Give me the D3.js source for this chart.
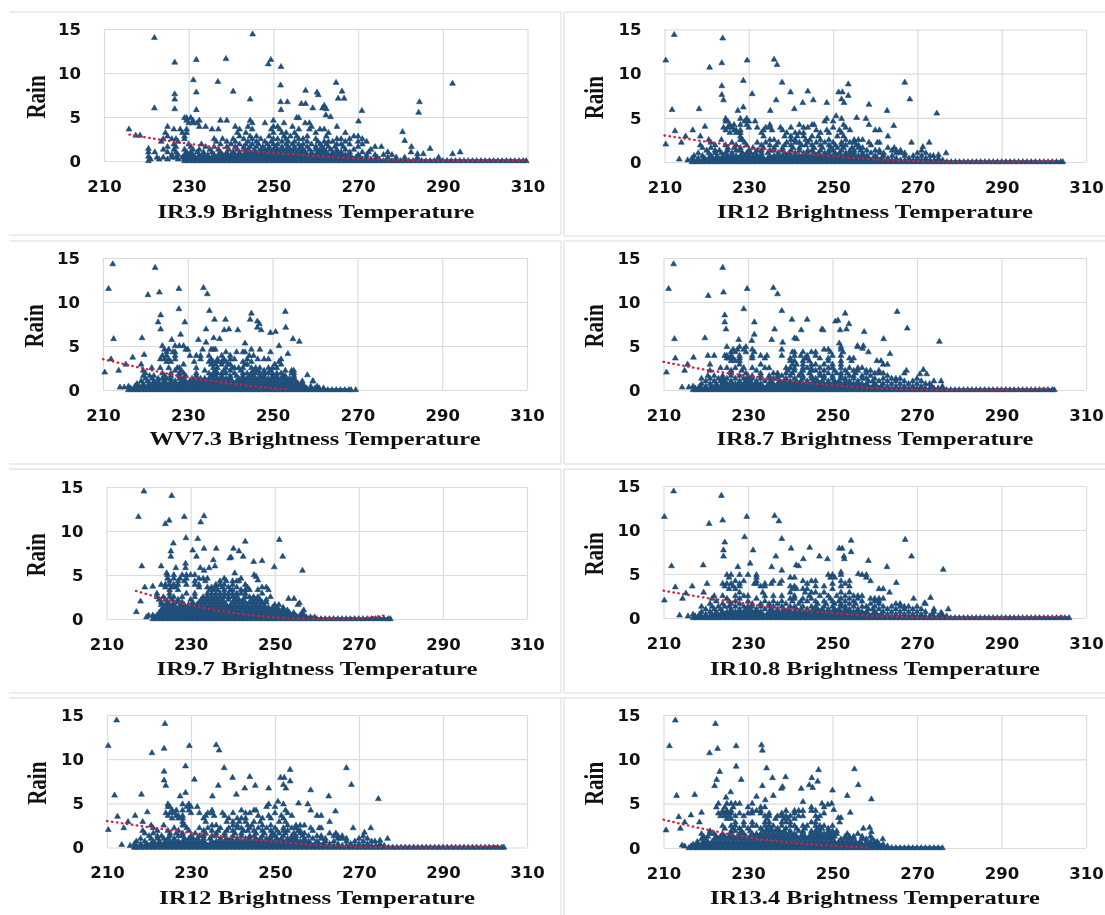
<!DOCTYPE html>
<html>
<head>
<meta charset="utf-8">
<title>Rain vs brightness temperature</title>
<script src="https://cdn.jsdelivr.net/npm/d3@7"></script>
<style>
  html, body { margin: 0; background: #fff; }
  svg { display: block; filter: blur(0.35px); }
  .tick text { font-family: "DejaVu Sans", sans-serif; font-weight: bold; font-size: 16.5px; fill: #111; }
  .grid line { stroke: #dcdcdc; stroke-width: 1.2; }
  .title { font-family: "Liberation Serif", serif; font-weight: bold; fill: #111; }
  .frame { stroke: #e6e6e6; stroke-width: 1.5; }
</style>
</head>
<body>
<svg id="chart" width="1105" height="915"></svg>
<script>
const xTicks = [210, 230, 250, 270, 290, 310];
const yTicks = [0, 5, 10, 15];

// sparse points, [temperature, rain]
const ir39Peaks = [[215.9,3.6],[221.9,6],[221.9,14],[226.7,11.2],[226.7,7.6],[226.7,7],[226.7,5.9],[231.1,9.2],[231.8,11.5],[231.8,7.8],[231.8,5.8],[236.9,9],[238.8,11.6],[240.5,7.9],[244.5,7],[245.1,14.4],[248.8,11],[249.4,11.5],[251.8,10.7],[251.7,8.6],[251.7,6.7],[251.8,5.8],[253.3,6.7],[256.6,6.5],[257.6,6.5],[257.6,8],[260.3,7.8],[260.6,7.5],[259.3,6],[261.6,6],[262,6.3],[262.5,5.9],[262.4,5.2],[263.5,5],[264.8,8.9],[265.3,7.1],[266.2,7.9],[266.7,7.1],[270.9,5.7],[270.1,4.5],[280.5,3.3],[281,2.3],[282.6,1.6],[282.5,1],[284.3,5.5],[284.5,6.7],[287,1.4],[292.3,8.8],[292.3,.8],[294.1,1],[284,.8],[285.4,.8],[217.5,2.9],[218.5,2.9],[220.5,1.4],[220.5,1],[220.5,.5],[220.5,0]];
const ir12Peaks = [[210.3,11.5],[212.3,14.4],[211.8,5.9],[210.3,2],[212.5,3.5],[214,2.2],[213.5,.3],[215.5,.2],[216.7,3.6],[215,2.9],[218.2,6],[219.6,4],[220.7,10.7],[223.6,11.2],[223.8,14],[223.6,8.6],[223.6,7.6],[224,7],[228.7,9.2],[229.6,11.5],[230.8,7.7],[228.7,6.2],[227.4,5.8],[236,11.6],[236.7,11],[237.9,9],[236.5,7],[235.1,5.8],[239.9,7.9],[240.8,6],[242.8,6.7],[244,8],[245.3,7],[248.5,6.7],[251.3,7.9],[252.2,7.9],[252,7.1],[252.6,6.7],[253.6,8.8],[253.6,7.5],[250.7,5.2],[255.6,5],[257.8,4.9],[258.5,6.5],[262.8,5.8],[264.4,4.1],[267,9],[268.2,7.1],[274.6,5.5],[268.6,2.2],[272.8,2.2],[271.3,1.7],[276.8,1],[275,.8],[273.8,.7]];
const wv73Peaks = [[210.4,2],[211.3,11.5],[212.3,14.3],[212.5,5.8],[211.9,3.5],[213.7,2.2],[215.4,2.9],[217,3.7],[219.2,5.9],[219.7,4],[220.6,10.8],[222.3,13.9],[223.3,11.1],[223,7.7],[223.6,8.5],[223.6,6.9],[227.9,11.5],[227.9,9.2],[229.3,7.7],[228.3,6.3],[226.2,5.7],[232.5,5.7],[233.7,11.6],[234.6,10.9],[235.1,9],[236.3,8],[238.9,8],[234.3,6.9],[238.6,6.8],[239.7,6.9],[241.8,6.8],[236.1,5.9],[237.5,5.8],[243.5,5.3],[234.3,5.4],[245,8.7],[244.7,8],[246.4,7.8],[246.9,7.5],[246.4,7.1],[247.3,6.8],[249.5,6.5],[250.7,6.6],[253,8.9],[253.1,7.1],[251.5,5],[254.8,5.8],[256.3,5.5],[253.6,4.1],[258.2,1.7],[259.5,1],[269.6,0],[214,.3],[215,.3]];
const ir87Peaks = [[210.7,2],[211.2,11.5],[212.4,14.3],[212.6,5.8],[212.8,3.6],[214.4,.3],[216,.3],[215,2.2],[215.7,2.9],[217.1,3.7],[219.8,5.9],[220.6,10.7],[224.2,11.1],[224,13.9],[224.5,8.5],[224.5,7.7],[224.8,6.9],[229,9.2],[229.8,11.5],[231.5,7.7],[231.5,6.3],[230.9,5.6],[227.8,5.7],[236,11.6],[237,10.9],[238,9],[236.3,6.9],[235.6,5.7],[238.2,5.4],[240.4,8],[241,5.9],[241.5,5.8],[242.6,6.8],[244,8],[247.5,6.9],[247.8,6.8],[250.7,7.8],[251.3,7.9],[253,8.7],[251.8,6.8],[253.3,6.9],[253.9,7.5],[251.6,5.3],[257.5,6.6],[255.9,5],[257.3,5],[257.1,4.7],[258.5,4.3],[262.1,5.8],[263.6,4.1],[265.3,8.9],[267.7,7],[275.3,5.5],[267.5,2.2],[271.5,2.3],[270.7,1.8],[272.3,1.8],[275.7,1]];
const ir97Peaks = [[217.1,.8],[217.6,11.6],[218.9,14.5],[218.1,2],[218.4,6],[219.1,3.6],[221,3.7],[223,6],[224,10.8],[224.9,11.2],[225.5,14],[225.9,8.6],[225.3,7.7],[225.3,7.1],[226.5,5.8],[224.3,5.2],[228.5,11.6],[228.9,9.2],[228.8,6.3],[228.8,5.8],[230.5,7.8],[231.4,7.1],[231.7,9.1],[232.4,11],[233.2,11.7],[233.2,8],[232.3,5.8],[233.2,5.5],[236.1,8],[235.4,6.7],[235.8,6],[234.4,5.8],[239.3,6.9],[239.6,7],[240.2,8],[241.5,7.7],[242.5,7.1],[243,8.8],[240.5,5.2],[245,6.5],[247,6.6],[249.9,5.9],[251.1,9],[251.9,7.1],[256.6,5.5],[245.1,5],[245.6,4.8],[246,4.4],[253.3,2.3],[254.6,2.3],[255.9,1.8],[256.9,1]];
const ir108Peaks = [[210.2,11.5],[212.4,14.4],[211.9,5.9],[210.2,2],[212.8,3.5],[214.5,2.2],[213.8,.3],[215.8,.2],[216.8,3.6],[215.3,2.8],[219.4,6],[220.3,3.9],[220.8,10.7],[223.7,13.9],[224,11.1],[224.5,8.6],[224.2,7.7],[224.2,7],[229.2,9.2],[229.7,11.5],[231.2,7.7],[230.5,6.2],[227.6,5.8],[235.6,5.8],[236.3,11.6],[237.3,11],[238,9],[236.6,7],[238,5.4],[240.2,7.9],[241.4,6],[242,5.9],[243.1,6.7],[244.6,8],[246.9,7],[248.8,6.7],[251.6,7.9],[252.3,7.9],[252.7,7],[252.8,6.7],[254.4,8.8],[254.4,7.5],[252,5.2],[256.1,5],[258,4.9],[258.5,6.5],[262.9,5.8],[265.1,4],[267.2,8.9],[268.7,7],[276.2,5.5],[269.2,2.2],[273.2,2.3],[271.8,1.7],[277.4,1],[275.7,.6]];
const ir134Peaks = [[210.6,2],[211.4,11.5],[212.8,14.4],[213.1,5.9],[213.6,3.5],[214,2.2],[214.4,.3],[215,.2],[215,2.9],[216.5,3.7],[217.4,6],[219,4],[220.9,10.7],[222.3,14],[222.8,11.2],[223.3,8.6],[222.6,7.7],[222.1,7],[227.2,9.2],[227.2,11.5],[228.4,7.7],[225.9,6.3],[224.8,5.7],[232,5.8],[233.2,11.6],[233.4,11],[234.4,9],[233.4,7],[234.1,5.4],[235.8,7.9],[236,5.9],[238.9,8],[238.2,6.9],[237.9,6.7],[242.6,6.7],[243,5.2],[244.5,7.1],[245.1,7.9],[245.3,6.8],[246.5,7.5],[246.7,8.8],[250,6.5],[253.5,5.9],[255.2,8.9],[256.1,7.1],[259.2,5.5],[254.2,4],[247.5,5],[248.9,4.9],[249.8,5],[250.3,4.3],[251.4,3.4],[252,3.4],[251.7,2.9],[257.3,2.2],[258.8,2.3],[259.2,1.8],[261.9,1],[260.6,.7]];

// the dense cloud, [rain, temperatures at that rain]
const ir39Rows = [
  [4.9,[229,229.5,230.5,255.5,256]],
  [4.6,[229.5,231,232.5,237.5,239,244.5,250]],
  [4.3,[230,231,232,245,248,252.5,257.5,258.5]],
  [3.9,[225,232.5,234,241,244,250,251,254.5,259,265]],
  [3.6,[226.5,228,229.5,235.5,237,242,245,249.5,251.5,256,258.5,261,262]],
  [3.2,[224.5,228.5,229.5,241.5,243.5,250,252,253,255,260,263,267]],
  [2.8,[225,229,242,244.5,246,249,252.5,254,255.5,258,262.5,269,270]],
  [2.5,[224,226,227,229,236,238,240.5,243,245,247,250,251,253,256,257,260,265,266,268,271]],
  [2.2,[223.5,227.5,236.5,239,241,244,246,248,249.5,252,253.5,255,258,260.5,262,263,264,267,270,272]],
  [1.9,[226.5,230,233,237.5,240,242,243.5,245,246.5,248.5,250,251,253,254.5,256,257,259,261,262.5,265,266,268,271]],
  [1.6,[225,227,230.5,234,236,239,241,243,244.5,246,247.5,249,250.5,252,253.5,255,256.5,258,260,261.5,263,264.5,266.5,270,274,275.5]],
  [1.3,[224,226.5,229,231,232.5,235,237,239.5,241.5,243,244,245.5,247,248,249,250,251,252,253,254,255,256,257,258.5,260,261,262,263.5,265,267,269,273]],
  [1,[222,225,227,229.5,230.5,232,233.5,235.5,237.5,239,240.5,242,243.5,244.5,245.5,246.5,247.5,248.5,249.5,250.5,251.5,252.5,253.5,254.5,255.5,256.5,257.5,259,260.5,261.5,262.5,264,265,266,268,271,272.5,277]],
  [.7,[226,227.5,229,230,231,232.5,233.5,234.5,236,237,238,239,240,241,242,243,244,245,246,247,248,249,250,251,252,253,254,255,256,257,258,259,260,261,262,263,264,265,266,267,268,270,272,274,276,278]],
  [.4,[222.5,224,226,227,228.5,229.5,230.5,231.5,232.5,233.5,234.5,235.5,236.5,237.5,238.5,239.5,240.5,241.5,242.5,243.5,244.5,245.5,246.5,247.5,248.5,249.5,250.5,251.5,252.5,253.5,254.5,255.5,256.5,257.5,258.5,259.5,260.5,261.5,262.5,263.5,264.5,265.5,266.5,267.5,268.5,269.5,270.5,272,274.5,277,279,281,284,289]],
  [.2,[221,223,225,227.5,229,230,231,232,233,234,235,236,237,238,239,240,241,242,243,244,245,246,247,248,249,250,251,252,253,254,255,256,257,258,259,260,261,262,263,264,265,266,267,268,269,270,271,272,273,274,275]]
];
const ir12Rows = [
  [4.9,[224.5,228,229.5,248.5,252]],
  [4.6,[224.5,225,229,230,231.5,248,250]],
  [4.2,[225.5,226.5,228,229.5,235,242,245,245.5,252.5,258.5]],
  [3.9,[224,225,226,230,232,234,235,237.5,240,243,244,250,253]],
  [3.6,[224.5,226.5,227,228,233.5,235.5,238,246,248.5,251.5,254,260,261]],
  [3.3,[225.5,227,228,233,239,241,242,243,247,249,252]],
  [2.9,[218.5,228,233.5,238.5,240,241.5,243,245,246.5,251,252.5,263]],
  [2.5,[220.5,223.5,228,228.5,235,236,240,241,243.5,244.5,247,249,253,255,256,257]],
  [2.2,[221,226,229,232,234,237,239,241,242,244,246,248,250,252,254,255,258.5,260.5,261]],
  [1.9,[218.5,222,224.5,227,229.5,233,235,236.5,238.5,240,242.5,243.5,245,247,249,250.5,252,253,255.5,256,259]],
  [1.6,[219,221,225,226.5,228,231,233.5,236,238,240.5,242,245.5,247.5,249.5,251,252.5,254.5,256,257,263,264.5]],
  [1.3,[220,222,223,225,227,228,230,232,233,235,236,238,240,242,244,245,247,249,250,252,254,255,256.5,258,260,261,264,265,266,271]],
  [1,[218,220.5,222,223.5,224.5,226,228.5,229.5,230.5,231.5,233,234.5,237,238.5,239.5,241,243,244,245.5,246.5,248,249,250.5,251.5,253,254,255,257,259,261,262,265,266,267,270,272]],
  [.7,[217,219,221,222.5,224,225,226,227,228,229,230,231,232,233,235,236,237,238,239,240,241,242,243,244,245,246,247,248,249,250,251,252,253,254,255,256,257,258,260,262,264,267,269,271,273]],
  [.4,[216.5,218,219.5,220.5,221.5,222.5,223.5,224.5,225.5,226.5,227.5,228.5,229.5,230.5,231.5,232.5,233.5,234.5,235.5,236.5,237.5,238.5,239.5,240.5,241.5,242.5,243.5,244.5,245.5,246.5,247.5,248.5,249.5,250.5,251.5,252.5,253.5,254.5,255.5,256.5,257.5,258.5,259.5,260.5,261.5,263,265,268,270,272,275]],
  [.2,[217,218,219,220,221,222,223,224,225,226,227,228,229,230,231,232,233,234,235,236,237,238,239,240,241,242,243,244,245,246,247,248,249,250,251,252,253,254,255,256,257,258,259,260,261,262,263,264,265,266,267,268,269,270,271,272,273,274,275,276]]
];
const wv73Rows = [
  [5,[224,227,228,229]],
  [4.6,[224.5,225.5,229.5,230,233.5,235.5,236,236.5,245,247]],
  [4.3,[225,226.5,227,239,241.5,243,243.5,249.5]],
  [3.9,[224,225,227,230.5,232,233,235,238,240,244.5,245.5]],
  [3.5,[223.5,224.5,225.5,227,233,235.5,237,238.5,240,241,244,246.5,248,249,252]],
  [3.2,[225,226,231.5,235,236,237,238,239,243,245,251.5]],
  [2.9,[219,229,235.5,236.5,238,239.5,240,243.5,244,250.5,252]],
  [2.5,[221.5,223.5,225.5,227.5,228,232,236,237,239,240.5,241,242,243,245,246,247,249,250,251]],
  [2.2,[219.5,227,228.5,234,236.5,238.5,240,242.5,245.5,246.5,248,249.5,253,254.5,255]],
  [1.9,[220,224,226,228,229,232,235,236,237,238,239,241,243,244,245,246,247,248,249,250,251,252,254.5,255]],
  [1.6,[219.5,221,222,224.5,226,228,229.5,232,235.5,236.5,238,240,241.5,243,244.5,245.5,247,248,250,251,252.5,253,255]],
  [1.3,[220,221.5,223,224,225,226,228,229,231,232,233,234,235,236,237,238,239,240,242,243,244,245,246,247,248,249,250,251,252,253,254,255]],
  [1,[219,220.5,222,223,224.5,226,227,228.5,229.5,230.5,231.5,232.5,233.5,234.5,235.5,236.5,237.5,238.5,239.5,240.5,241.5,242.5,243.5,244.5,245.5,246.5,247.5,248.5,249.5,250.5,251.5,252.5,253.5,254.5,255.5,257,259.5]],
  [.7,[218,219.5,221,222,223,224,225,226,227,228,229,230,231,232,233,234,235,236,237,238,239,240,241,242,243,244,245,246,247,248,249,250,251,252,253,254,255,256,257]],
  [.4,[216,217.5,218.5,219.5,220.5,221.5,222.5,223.5,224.5,225.5,226.5,227.5,228.5,229.5,230.5,231.5,232.5,233.5,234.5,235.5,236.5,237.5,238.5,239.5,240.5,241.5,242.5,243.5,244.5,245.5,246.5,247.5,248.5,249.5,250.5,251.5,252.5,253.5,254.5,255.5,256.5,257.5,259,260.5]],
  [.2,[216.5,218,219,220,221,222,223,224,225,226,227,228,229,230,231,232,233,234,235,236,237,238,239,240,241,242,243,244,245,246,247,248,249,250,251,252,253,254,255,256,257,258,259,260,261,262]]
];
const ir87Rows = [
  [4.9,[225,228,229.5,252,256]],
  [4.6,[226.5,227.5,229,231,238,248,249,252]],
  [4.3,[226,227,229.5,231.5,240.5,241,243,245,246,249.5,252.5]],
  [3.9,[220.5,222,224.5,225,226,228,231,233,234.5,238,241,242.5,244,246,250,252]],
  [3.6,[225,225.5,226.5,228,231,234,240,243.5,244,247,249,254,255]],
  [3.3,[226,227,228,240,241,243,244.5,249,252,254.5,260.5,261.5]],
  [2.9,[221,228,233,240.5,241.5,243,245,246,248,250,252,262,263]],
  [2.5,[223.5,225,227,229,231,234,235,239,240,241,243,244,245,247,249,250,252,254,256,257]],
  [2.2,[221,226,228.5,232,239.5,241,243,245,246,248,250.5,253,255,256,258,259,261]],
  [1.9,[226,229.5,233,236,237,239,240.5,242.5,244.5,247,249,251,252,253.5,255.5,258,260,261,262,267]],
  [1.6,[220.5,222,224,226,228,230,231,233,235,237,238,240,242,243,245,247,248,250,252,254,255,257,259,263]],
  [1.3,[219,221,223,224,225,227,229,230,231,233,235,236,237,239,241,243,245,246,248,250,252,253,255,257,258,260,262,264,265,266,270]],
  [1,[220,222,223.5,224.5,226,228,229.5,230.5,232,234,235.5,237.5,238.5,240,241.5,242.5,244,245.5,246.5,247.5,249,250.5,251.5,253,254,256,258.5,259.5,261,263,265,267,269,271,274]],
  [.7,[219,221,222.5,224,225,226,227,228,229,230,231,232,233,235,236,237,238,239,240,241,242,243,244,245,246,247,248,249,250,251,252,253,254,255,256,257,258,260,262,264,266,268,270,272,273]],
  [.4,[217,218.5,220,221.5,222.5,223.5,224.5,225.5,226.5,227.5,228.5,229.5,230.5,231.5,232.5,233.5,234.5,235.5,236.5,237.5,238.5,239.5,240.5,241.5,242.5,243.5,244.5,245.5,246.5,247.5,248.5,249.5,250.5,251.5,252.5,253.5,254.5,255.5,256.5,257.5,258.5,259.5,260.5,261.5,263,265,267,269,271,273.5,276]],
  [.2,[217.5,219,220,221,222,223,224,225,226,227,228,229,230,231,232,233,234,235,236,237,238,239,240,241,242,243,244,245,246,247,248,249,250,251,252,253,254,255,256,257,258,259,260,261,262,263,264,265,266,267,268,269,270,271,272,273,274,275,276]]
];
const ir97Rows = [
  [5,[224.5,226,228,229,230,231]],
  [4.6,[224.5,226,227.5,229,232,233,234,238,242]],
  [4.3,[225,227,228.5,231,233.5,237,238.5,240,241,241.5]],
  [3.9,[223,224,225,226,227,229,231,232,236,237,238,240,243]],
  [3.6,[224,225.5,226.5,232,234,235,236,237.5,239,241,243.5,247,248]],
  [3.3,[225,227,234.5,235.5,236.5,238,239.5,240,242,243,244,246,248.5]],
  [2.9,[222,225,229,231,234,235,236,237,238,239,240,241,242,243,247]],
  [2.5,[222,223.5,225,226,228,231,233,234,235,236,237,238,239,240,241,243,244,245,246,249]],
  [2.2,[222.5,224,225.5,227,230,232.5,233.5,234.5,235.5,236.5,237.5,239,240.5,241.5,242.5,244.5,245.5,246.5,248]],
  [1.9,[223,224.5,226,227,228,230.5,232,233,234,235,236,237,238,240,241,242,243,244,245,246,247,248]],
  [1.6,[223,224,225,226,227.5,228.5,229.5,230.5,231.5,232.5,233.5,234.5,235.5,236.5,237.5,238.5,239.5,240.5,241.5,242.5,243.5,244.5,245.5,246.5,247.5,250,251,255.5]],
  [1.3,[223.5,224.5,225.5,226.5,227.5,228.5,229.5,230.5,231.5,232.5,233.5,234.5,235.5,236.5,237.5,238.5,239.5,240.5,241.5,242.5,243.5,244.5,245.5,246.5,247.5,248.5,249.5,250.5,252]],
  [1,[223,224,225,226,227,228,229,230,231,232,233,234,235,236,237,238,239,240,241,242,243,244,245,246,247,248,249,250,251,252,253]],
  [.7,[222.5,223.5,224.5,225.5,226.5,227.5,228.5,229.5,230.5,231.5,232.5,233.5,234.5,235.5,236.5,237.5,238.5,239.5,240.5,241.5,242.5,243.5,244.5,245.5,246.5,247.5,248.5,249.5,250.5,251.5,252.5,253.5,254.5,256.5]],
  [.4,[220,221,222,223,224,225,226,227,228,229,230,231,232,233,234,235,236,237,238,239,240,241,242,243,244,245,246,247,248,249,250,251,252,253,254,255,256,257]],
  [.2,[219.5,221.5,222.5,223.5,224.5,225.5,226.5,227.5,228.5,229.5,230.5,231.5,232.5,233.5,234.5,235.5,236.5,237.5,238.5,239.5,240.5,241.5,242.5,243.5,244.5,245.5,246.5,247.5,248.5,249.5,250.5,251.5,252.5,253.5,254.5,255.5,256.5,257.5,258.5,259.5]]
];
const ir108Rows = [
  [4.9,[225,226,228,230,232,249,250,252,257]],
  [4.6,[225.5,232,240,241,249.5,250.5,258]],
  [4.2,[227,229,232,236,238,243,245,246,252,254,259]],
  [3.9,[224,225,226,228,231.5,232,234,235.5,237.5,244,250,253]],
  [3.6,[224.5,226.5,228,233,234,240,241,246,248,252,254]],
  [3.3,[225.5,227,240.5,241.5,243,244,250,261,262]],
  [2.9,[219.5,228,233.5,240,243.5,245,246,248,252,254,263.5]],
  [2.5,[222,224,227,229,230,234,236,238,241,244.5,247,249,251,253,255,256,257]],
  [2.2,[221.5,225,228,232,240,241,243,245,249.5,252,254,256,259,260,261,262]],
  [1.9,[222.5,225.5,227,230,234,236,238,240.5,242.5,244,246,248,250,251.5,253,255,257,260,261]],
  [1.6,[221,224,226,228,231,233,235,237,239,242,246.5,248.5,250.5,252,254,255.5,259,261,265,266,272]],
  [1.3,[219,221.5,223,224.5,225.5,227,229,230,231,233,235,236,238,240,241,243,245,246,248,250,252,253,255,257,258,260,262,264,266,267,268,270]],
  [1,[220,222,223.5,226,228,229.5,230.5,232,234,235.5,237,238.5,239.5,241.5,242.5,244,245.5,246.5,247.5,249,250.5,251.5,253,254,256,258.5,259.5,261,263,265,267,269,271,274]],
  [.7,[219,221,222.5,224,225,226,227,228,229,230,231,232,233,235,236,237,238,239,240,241,242,243,244,245,246,247,248,249,250,251,252,253,254,255,256,257,258,260,262,264,266,268,270,272,274]],
  [.4,[217,218.5,220,221.5,222.5,223.5,224.5,225.5,226.5,227.5,228.5,229.5,230.5,231.5,232.5,233.5,234.5,235.5,236.5,237.5,238.5,239.5,240.5,241.5,242.5,243.5,244.5,245.5,246.5,247.5,248.5,249.5,250.5,251.5,252.5,253.5,254.5,255.5,256.5,257.5,258.5,259.5,260.5,261.5,263,265,267,269,271,273.5,276]],
  [.2,[217.5,219,220,221,222,223,224,225,226,227,228,229,230,231,232,233,234,235,236,237,238,239,240,241,242,243,244,245,246,247,248,249,250,251,252,253,254,255,256,257,258,259,260,261,262,263,264,265,266,267,268,269,270,271,272,273,274,275,276,277]]
];
const ir134Rows = [
  [5,[223,225,226,227,228,231]],
  [4.6,[222.5,224.5,226.5,230,233,234,245,248]],
  [4.2,[224,225,226,231,232,233,239,241,242,243,245,246]],
  [3.9,[223,224,225,226,228,230,231,233,235,238,241,248]],
  [3.6,[223.5,224.5,225.5,227,229,234,235,237,238,239,240,242,243,246,247]],
  [3.3,[225,226,234.5,236.5,238.5,239.5,241,246.5]],
  [2.9,[218.5,227,229,231,234,235,238,239,240,245,246]],
  [2.5,[224,226,227,229,231,232,234,235,236,238,240,241,243,244,246,247,248,250]],
  [2.2,[224.5,226.5,228,230,233,234.5,235.5,237,239,241.5,243.5,246.5,247.5,249]],
  [1.9,[221,226,227,228.5,230.5,233.5,234.5,235.5,236.5,237.5,238.5,240,242,243,245,246,247,249,250,251]],
  [1.6,[219,221,222,224,226,228,229,231,232,233,234,235,236,237,238,239,240,241,243,245,246,247,248,249,250,251,253.5,256]],
  [1.3,[219.5,220.5,222.5,223.5,224.5,225.5,226.5,227.5,228.5,229.5,230.5,231.5,232.5,233.5,234.5,235.5,236.5,237.5,238.5,239.5,240.5,241.5,242.5,243.5,244.5,245.5,246.5,247.5,248.5,249.5,250.5,253,254,255,257,259]],
  [1,[219,220,222,223,224,225,226,227,228,229,230,231,232,233,234,235,236,237,238,239,240,241,242,243,244,245,246,247,248,249,250,252,253,254,255,257,258,259.5]],
  [.7,[218,219.5,220.5,221.5,222.5,223.5,224.5,225.5,226.5,227.5,228.5,229.5,230.5,231.5,232.5,233.5,234.5,235.5,236.5,237.5,238.5,239.5,240.5,241.5,242.5,243.5,244.5,245.5,246.5,247.5,248.5,249.5,250.5,251.5,252.5,253.5,254.5,255.5,256.5,258,259,260]],
  [.4,[217,218,219,220,221,222,223,224,225,226,227,228,229,230,231,232,233,234,235,236,237,238,239,240,241,242,243,244,245,246,247,248,249,250,251,252,253,254,255,256,257,258,259,260,261,262]],
  [.2,[216.5,217.5,218.5,219.5,220.5,221.5,222.5,223.5,224.5,225.5,226.5,227.5,228.5,229.5,230.5,231.5,232.5,233.5,234.5,235.5,236.5,237.5,238.5,239.5,240.5,241.5,242.5,243.5,244.5,245.5,246.5,247.5,248.5,249.5,250.5,251.5,252.5,253.5,254.5,255.5,256.5,257.5,258.5,259.5,260.5,261.5,263]]
];

// points lying on the axis, rain about 0
const ir39Floor = [229,230,231,232,233,234,235,236,237,238,239,240,241,242,243,244,245,246,247,248,249,250,251,252,253,254,255,256,257,258,259,260,261,262,263,264,265,266,267,268,269,270,271,272,273,274,275,276,277,278,279,280,281,282,283,284,285,286,287,288,289,290,291,292,293,294,295,296,297,298,299,300,301,302,303,304,305,306,307,308,309,309.7];
const ir12Floor = [216.5,217,218,219,220,221,222,223,224,225,226,227,228,229,230,231,232,233,234,235,236,237,238,239,240,241,242,243,244,245,246,247,248,249,250,251,252,253,254,255,256,257,258,259,260,261,262,263,264,265,266,267,268,269,270,271,272,273,274,275,276,277,278,279,280,281,282,283,284,285,286,287,288,289,290,291,292,293,294,295,296,297,298,299,300,301,302,303,304,304.5];
const wv73Floor = [216,217,218,219,220,221,222,223,224,225,226,227,228,229,230,231,232,233,234,235,236,237,238,239,240,241,242,243,244,245,246,247,248,249,250,251,252,253,254,255,256,257,258,259,260,261,262,263,264,265,266,267,268,268.5];
const ir87Floor = [217,218,219,220,221,222,223,224,225,226,227,228,229,230,231,232,233,234,235,236,237,238,239,240,241,242,243,244,245,246,247,248,249,250,251,252,253,254,255,256,257,258,259,260,261,262,263,264,265,266,267,268,269,270,271,272,273,274,275,276,277,278,279,280,281,282,283,284,285,286,287,288,289,290,291,292,293,294,295,296,297,298,299,300,301,302,302.5];
const ir97Floor = [221,222,223,224,225,226,227,228,229,230,231,232,233,234,235,236,237,238,239,240,241,242,243,244,245,246,247,248,249,250,251,252,253,254,255,256,257,258,259,260,261,262,263,264,265,266,267,268,269,270,271,272,273,274,275,276,277,277.5];
const ir108Floor = [217,218,219,220,221,222,223,224,225,226,227,228,229,230,231,232,233,234,235,236,237,238,239,240,241,242,243,244,245,246,247,248,249,250,251,252,253,254,255,256,257,258,259,260,261,262,263,264,265,266,267,268,269,270,271,272,273,274,275,276,277,278,279,280,281,282,283,284,285,286,287,288,289,290,291,292,293,294,295,296,297,298,299,300,301,302,303,304,305,306];
const ir134Floor = [216,217,218,219,220,221,222,223,224,225,226,227,228,229,230,231,232,233,234,235,236,237,238,239,240,241,242,243,244,245,246,247,248,249,250,251,252,253,254,255,256,257,258,259,260,261,262,263,264,265,266,267,268,269,270,271,272,273,274,275,276];

// red dotted trend lines
const ir39Trend = [[216,3],[225,2.3],[235,1.65],[245,1.1],[255,.75],[265,.4],[275,.2],[285,.05],[295,.02],[305,.05],[310,.08]];
const ir12Trend = [[210,3],[220,2.3],[230,1.65],[240,1.1],[250,.65],[260,.3],[270,.1],[280,.02],[290,.01],[300,.1],[303,.15]];
const wv73Trend = [[210,3.5],[220,2.4],[230,1.4],[240,.75],[250,.2],[254,.05]];
const ir87Trend = [[210,3.2],[220,2.3],[230,1.6],[240,1],[250,.55],[260,.2],[270,.05],[280,.02],[295,.05],[301,.15]];
const ir97Trend = [[217,3.2],[225,2.1],[235,1.1],[245,.4],[255,.05],[265,0],[272,.15],[276,.4]];
const ir108Trend = [[210,3.1],[220,2.3],[230,1.6],[240,1],[250,.55],[260,.25],[270,.08],[285,.02],[298,.08],[305,.2]];
const ir134Trend = [[210,3.2],[220,2.1],[230,1.2],[240,.6],[250,.25],[258,.05]];

const panels = [
  { title: 'IR3.9 Brightness Temperature', peaks: ir39Peaks, rows: ir39Rows, floor: ir39Floor, trend: ir39Trend, l: 104, r: 527.5, t: 29, b: 161, rainX: 38, tx: 316, ty: 212, tl: 317 },
  { title: 'IR12 Brightness Temperature', peaks: ir12Peaks, rows: ir12Rows, floor: ir12Floor, trend: ir12Trend, l: 664.5, r: 1086, t: 29.5, b: 162, rainX: 596, tx: 875, ty: 212, tl: 316 },
  { title: 'WV7.3 Brightness Temperature', peaks: wv73Peaks, rows: wv73Rows, floor: wv73Floor, trend: wv73Trend, l: 103, r: 527, t: 258, b: 390, rainX: 36, tx: 315, ty: 439, tl: 331 },
  { title: 'IR8.7 Brightness Temperature', peaks: ir87Peaks, rows: ir87Rows, floor: ir87Floor, trend: ir87Trend, l: 663.5, r: 1086, t: 258, b: 390, rainX: 596, tx: 875, ty: 439, tl: 317 },
  { title: 'IR9.7 Brightness Temperature', peaks: ir97Peaks, rows: ir97Rows, floor: ir97Floor, trend: ir97Trend, l: 106.5, r: 527, t: 487, b: 619, rainX: 38, tx: 317, ty: 669, tl: 321 },
  { title: 'IR10.8 Brightness Temperature', peaks: ir108Peaks, rows: ir108Rows, floor: ir108Floor, trend: ir108Trend, l: 663.5, r: 1086, t: 486, b: 618, rainX: 596, tx: 875, ty: 669, tl: 330 },
  { title: 'IR12 Brightness Temperature', peaks: ir12Peaks, rows: ir12Rows, floor: ir12Floor, trend: ir12Trend, l: 107, r: 527, t: 715, b: 847.5, rainX: 39, tx: 317, ty: 898, tl: 316 },
  { title: 'IR13.4 Brightness Temperature', peaks: ir134Peaks, rows: ir134Rows, floor: ir134Floor, trend: ir134Trend, l: 663.5, r: 1086, t: 715, b: 848, rainX: 596, tx: 875, ty: 898, tl: 330 },
];

const svg = d3.select('#chart');

// light frame lines around the panels
const hFrames = [[9, 561, 12], [9, 561, 235], [9, 561, 241], [9, 561, 464], [9, 561, 469], [9, 561, 693], [9, 1105, 698],
                 [564, 1105, 12], [564, 1105, 236], [564, 1105, 241], [564, 1105, 464], [564, 1105, 469], [564, 1105, 693]];
const vFrames = [[561, 12, 235], [564, 12, 236], [561, 241, 464], [564, 241, 464], [561, 469, 693], [564, 469, 693], [561, 698, 915], [564, 698, 915]];
svg.append('g').selectAll('line').data(hFrames).join('line').attr('class', 'frame')
  .attr('x1', d => d[0]).attr('x2', d => d[1]).attr('y1', d => d[2]).attr('y2', d => d[2]);
svg.append('g').selectAll('line').data(vFrames).join('line').attr('class', 'frame')
  .attr('x1', d => d[0]).attr('x2', d => d[0]).attr('y1', d => d[1]).attr('y2', d => d[2]);

const marker = d3.symbol().type(d3.symbolTriangle).size(15);

panels.forEach(p => {
  const x = d3.scaleLinear().domain([210, 310]).range([p.l, p.r]);
  const y = d3.scaleLinear().domain([0, 15]).range([p.b, p.t]);
  const g = svg.append('g');

  // axes double as the gridlines
  g.append('g').attr('class', 'grid').attr('transform', `translate(0,${p.b})`)
    .call(d3.axisBottom(x).tickValues(xTicks).tickSize(-(p.b - p.t)).tickPadding(19).tickFormat(d3.format('d')))
    .call(s => s.select('.domain').remove());
  g.append('g').attr('class', 'grid').attr('transform', `translate(${p.l},0)`)
    .call(d3.axisLeft(y).tickValues(yTicks).tickSize(-(p.r - p.l)).tickPadding(23))
    .call(s => s.select('.domain').remove());

  const points = [
    ...p.floor.map(t => [t, 0]),
    ...p.rows.flatMap(([rain, temps]) => temps.map(t => [t, rain])),
    ...p.peaks,
  ];
  g.append('g').selectAll('path').data(points).join('path')
    .attr('d', marker)
    .attr('fill', '#1f4e79')
    .attr('stroke', '#1f4e79')
    .attr('stroke-width', 0.6)
    .attr('transform', d => `translate(${x(d[0])},${y(d[1])})`);

  // markers on the axis overlap into one solid band
  g.append('path')
    .datum(p.floor)
    .attr('fill', 'none')
    .attr('stroke', '#1f4e79')
    .attr('stroke-width', 3.5)
    .attr('d', d3.line().x(d => x(d)).y(() => y(0)));

  g.append('path')
    .datum(p.trend)
    .attr('fill', 'none')
    .attr('stroke', '#cf2140')
    .attr('stroke-width', 2.3)
    .attr('stroke-linecap', 'round')
    .attr('stroke-dasharray', '0.5 4.5')
    .attr('d', d3.line().x(d => x(d[0])).y(d => y(d[1])).curve(d3.curveMonotoneX));

  g.append('text').attr('class', 'title')
    .attr('x', p.tx - p.tl / 2).attr('y', p.ty + 6)
    .attr('font-size', 19)
    .attr('textLength', p.tl).attr('lengthAdjust', 'spacingAndGlyphs')
    .text(p.title);

  g.append('text').attr('class', 'title')
    .attr('transform', `translate(${p.rainX + 7},${(p.t + p.b) / 2 + 2}) rotate(-90) scale(1,1.25)`)
    .attr('text-anchor', 'middle')
    .attr('font-size', 21)
    .text('Rain');
});
</script>
</body>
</html>
